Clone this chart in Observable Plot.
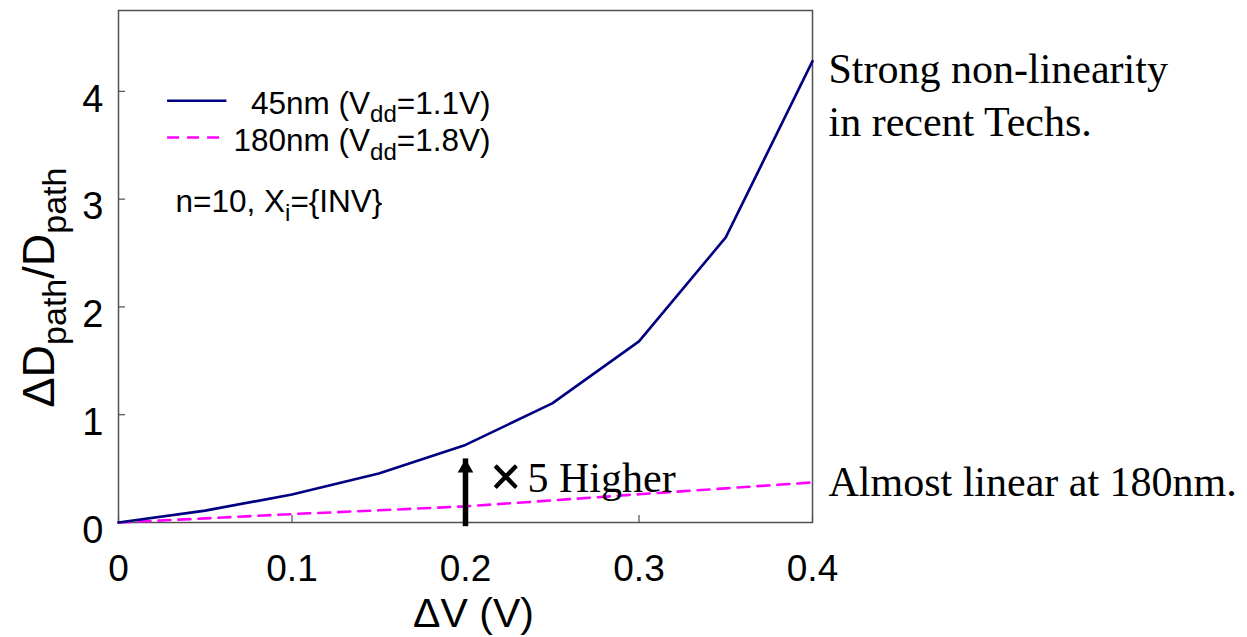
<!DOCTYPE html>
<html><head><meta charset="utf-8">
<script src="https://cdn.jsdelivr.net/npm/d3@7"></script>
<script src="https://cdn.jsdelivr.net/npm/@observablehq/plot@0.6"></script>
<style>body{margin:0;background:#fff}</style>
</head><body>
<div id="chart"></div>
<script>
// ---- data ----
const dV = [0, 0.05, 0.1, 0.15, 0.2, 0.25, 0.3, 0.35, 0.4];
const ratio45 = [0, 0.11, 0.26, 0.455, 0.72, 1.105, 1.68, 2.645, 4.28];
const ratio180 = [0, 0.038, 0.078, 0.113, 0.15, 0.205, 0.262, 0.317, 0.372];
const seriesNames = ["45nm (V_{dd}=1.1V)", "180nm (V_{dd}=1.8V)"];
const xTicks = [0, 0.1, 0.2, 0.3, 0.4];
const xTickLabels = ["0", "0.1", "0.2", "0.3", "0.4"];
const yTicks = [0, 1, 2, 3, 4];
const yTickLabels = ["0", "1", "2", "3", "4"];
const arrowAt = {x: 0.2, base: 0.054, tip: 0.59};

const rows45 = dV.map((x, i) => ({x, y: ratio45[i]}));
const rows180 = dV.map((x, i) => ({x, y: ratio180[i]}));

const SANS = "Liberation Sans, Arial, sans-serif";
const SERIF = "Liberation Serif, Times New Roman, serif";
const NAVY = "#000080", MAG = "#ff00ff", AX = "#505050";

const plotW = 1247 - 118 - 435, plotH = 637 - 10 - 115;

const chart = Plot.plot({
  width: 1247, height: 637,
  marginLeft: 118, marginRight: 435, marginTop: 10, marginBottom: 115,
  style: {fontFamily: SANS, background: "white", color: "black"},
  x: {domain: [0, 0.4], label: null},
  y: {domain: [0, 4.75], label: null},
  marks: [
    Plot.axisX(xTicks, {tickSize: 0, tickPadding: 32, fontSize: 37, tickFormat: (d, i) => xTickLabels[i], label: null}),
    Plot.axisY(yTicks, {tickSize: 0, tickPadding: 15, fontSize: 38, dy: 8, tickFormat: (d, i) => yTickLabels[i], label: null}),
    Plot.ruleX(xTicks, {x: d => d, insetTop: plotH - 7, stroke: AX, strokeWidth: 1.2}),
    Plot.ruleY(yTicks, {y: d => d, insetRight: plotW - 7, stroke: AX, strokeWidth: 1.2}),
    Plot.frame({stroke: AX, strokeWidth: 1.5}),
    Plot.line(rows180, {x: "x", y: "y", stroke: MAG, strokeWidth: 2.6, strokeDasharray: "12,8"}),
    Plot.line(rows45, {x: "x", y: "y", stroke: NAVY, strokeWidth: 2.6}),
    // arrow
    Plot.ruleX([arrowAt], {x: "x", y1: "base", y2: "tip", insetTop: 10, stroke: "black", strokeWidth: 5.5}),
    Plot.dot([arrowAt], {x: "x", y: "tip", symbol: "triangle", r: 5.8, fill: "black", stroke: "none", dy: 9}),
    Plot.text(["×"], {x: 0.2, y: 0.279, dx: 25, dy: 3, text: d => d, textAnchor: "start", lineAnchor: "bottom", fontFamily: SERIF, fontSize: 54, fill: "black", stroke: "black", strokeWidth: 1.6}),
    Plot.text(["5 Higher"], {x: 0.2, y: 0.279, dx: 62, text: d => d, textAnchor: "start", lineAnchor: "bottom", fontFamily: SERIF, fontSize: 42, fill: "black"}),
    // right annotations
    Plot.text(["Strong non-linearity\nin recent Techs."], {x: 0.4, y: 3.583, dx: 16, text: d => d, textAnchor: "start", lineAnchor: "bottom", lineHeight: 1.28, fontFamily: SERIF, fontSize: 42, fill: "black"}),
    Plot.text(["Almost linear at 180nm."], {x: 0.4, y: 0.249, dx: 16, text: d => d, textAnchor: "start", lineAnchor: "bottom", fontFamily: SERIF, fontSize: 42, fill: "black"}),
    // legend
    Plot.link([{x1: 0.028, x2: 0.0622, y: 3.913}], {x1: "x1", x2: "x2", y1: "y", y2: "y", stroke: NAVY, strokeWidth: 2.6}),
    Plot.link([{x1: 0.028, x2: 0.0622, y: 3.572}], {x1: "x1", x2: "x2", y1: "y", y2: "y", stroke: MAG, strokeWidth: 2.6, strokeDasharray: "12,8"}),
    Plot.text([seriesNames[0]], {x: 0.2144, y: 3.793, text: d => d, textAnchor: "end", lineAnchor: "bottom", fontSize: 31.5, fill: "black"}),
    Plot.text([seriesNames[1]], {x: 0.2144, y: 3.449, text: d => d, textAnchor: "end", lineAnchor: "bottom", fontSize: 31.5, fill: "black"}),
    Plot.text(["n=10, X_{i}={INV}"], {x: 0.0329, y: 2.877, text: d => d, textAnchor: "start", lineAnchor: "bottom", fontSize: 31.5, fill: "black"}),
    // axis titles
    Plot.text(["ΔV (V)"], {x: 0.2, frameAnchor: "bottom", dx: 8, dy: 104, text: d => d, textAnchor: "middle", lineAnchor: "bottom", fontSize: 41, fill: "black"}),
    Plot.text(["ΔD_{path}/D_{path}"], {y: 2.18, frameAnchor: "left", dx: -65, rotate: -90, text: d => d, textAnchor: "middle", lineAnchor: "bottom", fontSize: 45, fill: "black"})
  ]
});
document.getElementById("chart").appendChild(chart);

// Render "_{...}" as real subscript tspans
d3.select(chart).selectAll("text").each(function() {
  const s = this.textContent;
  if (!s.includes("_{")) return;
  const fs = parseFloat(getComputedStyle(this).fontSize);
  const sub = Math.round(fs * 0.76), shift = fs * 0.28;
  const parts = s.split(/_\{([^}]*)\}/);
  const el = d3.select(this);
  el.text(null);
  let lowered = false;
  parts.forEach((p, i) => {
    if (p === "") return;
    const isSub = i % 2 === 1;
    const t = el.append("tspan").text(p);
    if (isSub) {
      t.attr("font-size", sub).attr("dy", lowered ? 0 : shift);
      lowered = true;
    } else {
      if (lowered) t.attr("dy", -shift);
      lowered = false;
    }
  });
});
</script>
</body></html>
